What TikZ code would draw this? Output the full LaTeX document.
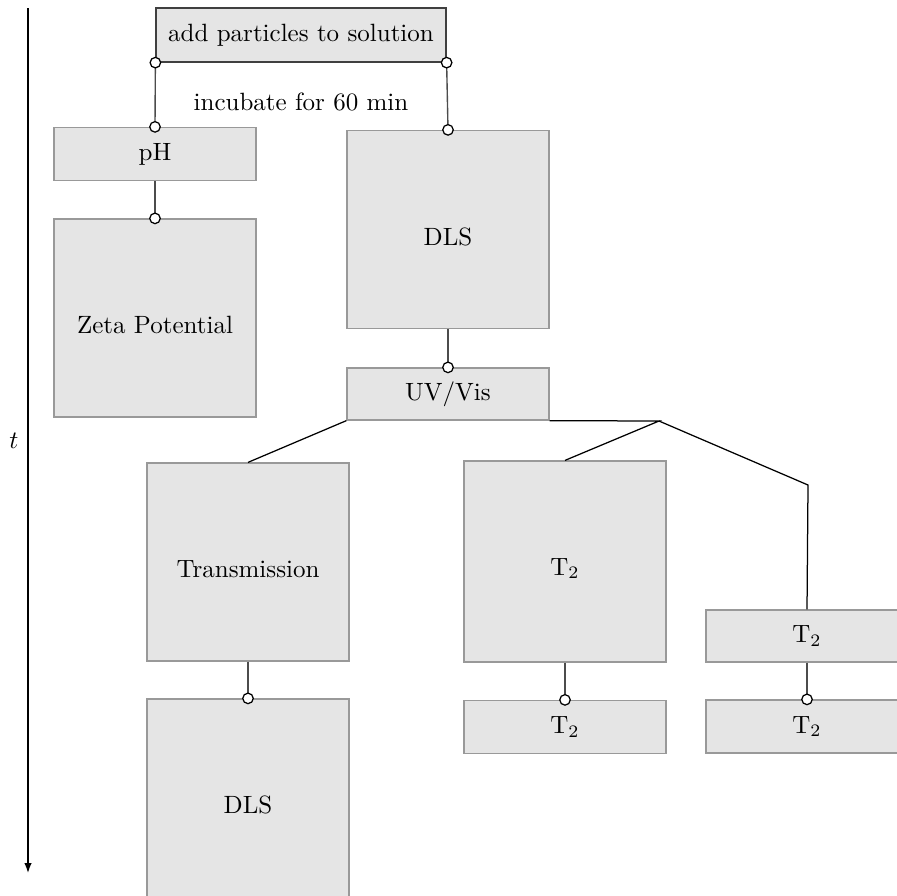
\documentclass[tikz,border=0pt]{standalone}
\usetikzlibrary{arrows.meta}
\newcommand\lowtxt[1]{\raisebox{-2.8pt}[\height][\depth]{#1}}
\begin{document}
\begin{tikzpicture}[x=0.4pt,y=-0.4pt,
  box/.style={rectangle, draw=black!40, fill=black!10, line width=0.5pt, inner sep=0pt, minimum width=80.8pt},
  bigbox/.style={box, minimum height=79.2pt},
  smallbox/.style={box, minimum height=21.2pt},
  dot/.style={circle, draw=black, fill=white, line width=0.5pt, inner sep=0pt, minimum size=4.2pt},
  conn/.style={draw=black!70, line width=0.55pt},
  branch/.style={draw=black, line width=0.5pt}]
\useasboundingbox (0,0) rectangle (897,895);
\clip (0,0) rectangle (897,895);
% time axis
\coordinate (ta) at (28,8);
\coordinate (tb) at (28,873);
\draw[line width=0.6pt, -{Latex[length=4pt,width=3pt]}] (ta) -- (tb);
\node (tlabel) at (14,441) {$t$};
% boxes
\node[box, draw=black!75, minimum width=116pt, minimum height=21.6pt] (top) at (301,35) {add particles to solution};
\node (inc) at (301,102) {incubate for 60 min};
\node[smallbox] (ph) at (155,154) {pH};
\node[bigbox] (zeta) at (155,318) {\lowtxt{Zeta Potential}};
\node[bigbox] (dlsa) at (448,229.5) {\lowtxt{DLS}};
\node[box, minimum height=20.8pt] (uv) at (448,394) {UV/Vis};
\node[bigbox] (trans) at (248,562) {\lowtxt{Transmission}};
\node[bigbox] (dlsb) at (248,798) {\lowtxt{DLS}};
\node[box, minimum height=80.4pt] (t2a) at (565,561.5) {\lowtxt{T$_2$}};
\node[smallbox] (t2b) at (565,727) {T$_2$};
\node[box, minimum height=20.8pt] (t2c) at (807,636) {T$_2$};
\node[smallbox] (t2d) at (807,726.5) {T$_2$};
% connectors
\draw[conn] (top.south west) -- (ph.north);
\draw[conn] (top.south east) -- (dlsa.north);
\draw[conn] (ph.south) -- (zeta.north);
\draw[conn] (dlsa.south) -- (uv.north);
\draw[conn] (trans.south) -- (dlsb.north);
\draw[conn] (t2a.south) -- (t2b.north);
\draw[conn] (t2c.south) -- (t2d.north);
% branching
\coordinate (j) at (659,421);
\coordinate (k) at (808,485);
\draw[branch] (uv.south west) -- (trans.north);
\draw[branch] (uv.south east) -- (j) -- (t2a.north);
\draw[branch] (j) -- (k) -- (t2c.north);
% dots
\node[dot] (d1) at (top.south west) {};
\node[dot] (d2) at (top.south east) {};
\node[dot] (d3) at (ph.north) {};
\node[dot] (d4) at (dlsa.north) {};
\node[dot] (d5) at (zeta.north) {};
\node[dot] (d6) at (uv.north) {};
\node[dot] (d7) at (dlsb.north) {};
\node[dot] (d8) at (t2b.north) {};
\node[dot] (d9) at (t2d.north) {};
\end{tikzpicture}
\end{document}
